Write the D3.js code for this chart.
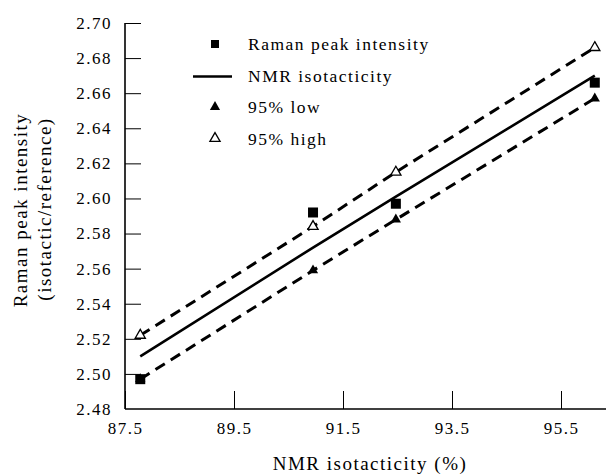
<html>
<head>
<meta charset="utf-8">
<title>Raman peak intensity vs NMR isotacticity</title>
<style>
body { margin: 0; background: #fff; }
text { font-family: "Liberation Serif", "DejaVu Serif", serif; fill: #000; }
.tick text { font-size: 17px; letter-spacing: 1.5px; }
</style>
</head>
<body>
<script src="https://d3js.org/d3.v7.min.js"></script>
<script>
// data
var isotacticity = [87.78, 90.95, 92.47, 96.12];
var ramanPeak   = [2.497, 2.592, 2.597, 2.666];
var nmrFit      = [2.510, 2.572, 2.601, 2.670];
var low95       = [2.497, 2.559, 2.588, 2.657];
var high95      = [2.522, 2.584, 2.615, 2.686];
var xTicks = [87.5, 89.5, 91.5, 93.5, 95.5];
var yTicks = [2.48, 2.50, 2.52, 2.54, 2.56, 2.58, 2.60, 2.62, 2.64, 2.66, 2.68, 2.70];

var W = 609, H = 476;
var x = d3.scaleLinear().domain([87.5, 95.5]).range([125, 561]);
var y = d3.scaleLinear().domain([2.48, 2.70]).range([409, 23]);

var svg = d3.select("body").append("svg").attr("width", W).attr("height", H);

// axes, ticks point inward
var xAxis = svg.append("g").attr("transform", "translate(0,409)")
  .call(d3.axisBottom(x).tickValues(xTicks).tickFormat(d3.format(".1f")).tickSize(0).tickPadding(10));
xAxis.select(".domain").remove();
svg.append("line").attr("x1", 125).attr("x2", 606).attr("y1", 409).attr("y2", 409)
  .attr("stroke", "#000").attr("stroke-width", 1.6);
xAxis.selectAll(".tick").append("line").attr("y1", 0).attr("y2", -18)
  .attr("stroke", "#000").attr("stroke-width", 1);
xAxis.selectAll(".tick text").attr("dy", "0.9em");

var yAxis = svg.append("g").attr("transform", "translate(125,0)")
  .call(d3.axisLeft(y).tickValues(yTicks).tickFormat(d3.format(".2f")).tickSize(0).tickPadding(13));
yAxis.select(".domain").remove();
svg.append("line").attr("x1", 125).attr("x2", 125).attr("y1", 23).attr("y2", 409)
  .attr("stroke", "#000").attr("stroke-width", 1.6);
yAxis.selectAll(".tick").filter(function(d) { return d > 2.48; })
  .append("line").attr("x1", 0).attr("x2", 16).attr("stroke", "#000").attr("stroke-width", 1);

// axis titles
svg.append("text").attr("x", 370).attr("y", 470).attr("text-anchor", "middle")
  .style("font-size", "19px").style("letter-spacing", "1.5px").text("NMR isotacticity (%)");
svg.append("text").attr("transform", "translate(27,210) rotate(-90)").attr("text-anchor", "middle")
  .style("font-size", "19px").style("letter-spacing", "1.5px").text("Raman peak intensity");
svg.append("text").attr("transform", "translate(51,209) rotate(-90)").attr("text-anchor", "middle")
  .style("font-size", "19px").style("letter-spacing", "1.5px").text("(isotactic/reference)");

// lines
function lineOf(vals) {
  return d3.line().x(function(d, i) { return x(isotacticity[i]); }).y(function(d) { return y(d); })(vals);
}
svg.append("path").attr("d", lineOf(high95)).attr("fill", "none").attr("stroke", "#000")
  .attr("stroke-width", 3).attr("stroke-dasharray", "11,7");
svg.append("path").attr("d", lineOf(low95)).attr("fill", "none").attr("stroke", "#000")
  .attr("stroke-width", 3).attr("stroke-dasharray", "11,7");
svg.append("path").attr("d", lineOf(nmrFit)).attr("fill", "none").attr("stroke", "#000")
  .attr("stroke-width", 2.6);

// markers
var tri = d3.symbol().type(d3.symbolTriangle).size(45);
svg.selectAll(".low").data(low95).enter().append("path")
  .attr("transform", function(d, i) { return "translate(" + x(isotacticity[i]) + "," + y(d) + ")"; })
  .attr("d", tri).attr("fill", "#000");
svg.selectAll(".high").data(high95).enter().append("path")
  .attr("transform", function(d, i) { return "translate(" + x(isotacticity[i]) + "," + y(d) + ")"; })
  .attr("d", tri).attr("fill", "#fff").attr("stroke", "#000").attr("stroke-width", 1.3);
svg.selectAll(".sq").data(ramanPeak).enter().append("rect")
  .attr("x", function(d, i) { return x(isotacticity[i]) - 5; })
  .attr("y", function(d) { return y(d) - 5; })
  .attr("width", 10).attr("height", 10).attr("fill", "#000");

// legend
var legend = svg.append("g");
var rows = ["Raman peak intensity", "NMR isotacticity", "95% low", "95% high"];
rows.forEach(function(label, i) {
  var cy = 44 + i * 31.5;
  legend.append("text").attr("x", 248).attr("y", cy + 6)
    .style("font-size", "17.5px").style("letter-spacing", "1.5px").text(label);
  if (i === 0) legend.append("rect").attr("x", 211).attr("y", cy - 4).attr("width", 8).attr("height", 8).attr("fill", "#000");
  if (i === 1) legend.append("line").attr("x1", 193).attr("x2", 232).attr("y1", cy + 1).attr("y2", cy + 1)
    .attr("stroke", "#000").attr("stroke-width", 2.6);
  if (i === 2) legend.append("path").attr("transform", "translate(215," + cy + ")").attr("d", tri).attr("fill", "#000");
  if (i === 3) legend.append("path").attr("transform", "translate(215," + cy + ")").attr("d", tri)
    .attr("fill", "#fff").attr("stroke", "#000").attr("stroke-width", 1.3);
});
</script>
</body>
</html>
